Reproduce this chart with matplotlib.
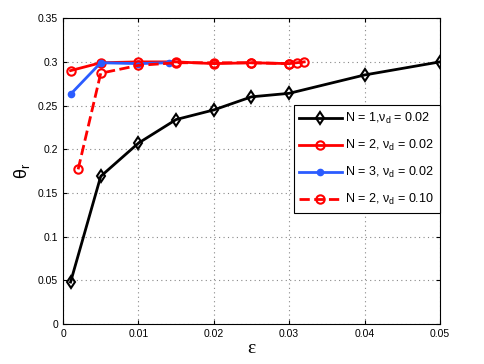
import matplotlib
matplotlib.use("Agg")
import matplotlib.pyplot as plt

plt.rcParams['font.family'] = ['Liberation Sans', 'DejaVu Sans']
plt.rcParams['mathtext.fontset'] = 'custom'
plt.rcParams['mathtext.rm'] = 'Liberation Sans'
plt.rcParams['mathtext.it'] = 'Liberation Sans'

# N = 1, nu_d = 0.02
eps_1 = [0.001, 0.005, 0.01, 0.015, 0.02, 0.025, 0.03, 0.04, 0.05]
theta_1 = [0.048, 0.169, 0.207, 0.234, 0.245, 0.260, 0.264, 0.285, 0.300]

# N = 2, nu_d = 0.02
eps_2 = [0.001, 0.005, 0.01, 0.015, 0.02, 0.025, 0.03, 0.031, 0.032]
theta_2 = [0.290, 0.299, 0.300, 0.300, 0.298, 0.299, 0.298, 0.299, 0.300]

# N = 3, nu_d = 0.02
eps_3 = [0.001, 0.005, 0.01, 0.014]
theta_3 = [0.263, 0.299, 0.298, 0.299]

# N = 2, nu_d = 0.10
eps_4 = [0.002, 0.005, 0.01, 0.015, 0.02, 0.025, 0.03]
theta_4 = [0.177, 0.287, 0.296, 0.299, 0.299, 0.299, 0.298]

labels = [r"N = 1,$\mathregular{\nu_d}$ = 0.02", r"N = 2, $\mathregular{\nu_d}$ = 0.02",
          r"N = 3, $\mathregular{\nu_d}$ = 0.02", r"N = 2, $\mathregular{\nu_d}$ = 0.10"]

fig = plt.figure(figsize=(4.85, 3.64), dpi=100)
ax = fig.add_axes([0.13, 0.11, 0.777, 0.84])

ax.plot(eps_1, theta_1, "k-d", lw=2, ms=6, mfc="none", mew=1.5, label=labels[0])
ax.plot(eps_2, theta_2, "-o", color="#ff0000", lw=2, ms=6, mfc="none", mew=1.5, label=labels[1])
ax.plot(eps_3, theta_3, "-o", color="#2b5cff", lw=2, ms=4.5, label=labels[2])
ax.plot(eps_4, theta_4, "--o", color="#ff0000", lw=2, ms=6, mfc="none", mew=1.5, label=labels[3])

ax.set_xlim(0, 0.05)
ax.set_ylim(0, 0.35)
ax.set_xticks([0, 0.01, 0.02, 0.03, 0.04, 0.05])
ax.set_xticklabels(["0", "0.01", "0.02", "0.03", "0.04", "0.05"])
ax.set_yticks([0, 0.05, 0.1, 0.15, 0.2, 0.25, 0.3, 0.35])
ax.set_yticklabels(["0", "0.05", "0.1", "0.15", "0.2", "0.25", "0.3", "0.35"])
ax.tick_params(direction="in", labelsize=7.5, top=True, right=True, length=3)
ax.grid(True, linestyle=(0, (1, 3)), color="#888888", lw=0.8)
for s in ax.spines.values():
    s.set_linewidth(0.8)

ax.set_xlabel("ε", fontsize=14, family=["Liberation Serif", "DejaVu Serif"], labelpad=1)
ax.set_ylabel(r"$\mathregular{\theta_r}$", fontsize=13, labelpad=4)

leg = ax.legend(loc="upper right", bbox_to_anchor=(1.0, 0.715), fontsize=9,
                fancybox=False, edgecolor="black", framealpha=1,
                handlelength=3.4, borderpad=0.45, labelspacing=0.95, handletextpad=0.3,
                borderaxespad=0.0)
leg.get_frame().set_linewidth(0.8)

fig.savefig("out.png", dpi=100)
